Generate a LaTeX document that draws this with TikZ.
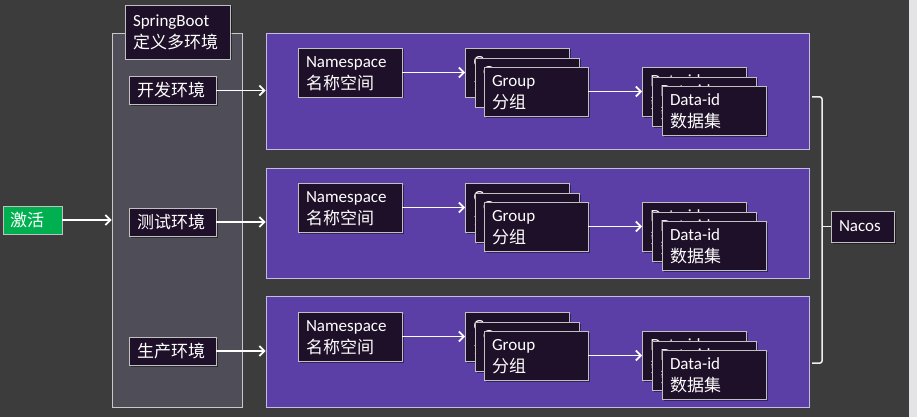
\documentclass[tikz,border=0pt]{standalone}
\usepackage{fontspec}
\setmainfont{Carlito}
\newfontfamily\cjk{Noto Sans CJK SC}
\usetikzlibrary{arrows.meta,shadows}
\definecolor{bgc}{HTML}{3C3C3C}
\definecolor{stripc}{HTML}{E4E4E8}
\definecolor{panelgray}{HTML}{4F4E58}
\definecolor{panelline}{HTML}{C8C8C8}
\definecolor{purp}{HTML}{5B3FA6}
\definecolor{purpline}{HTML}{C4BCE4}
\definecolor{boxfill}{HTML}{1E1028}
\definecolor{boxline}{HTML}{C0C0C0}
\definecolor{greenc}{HTML}{00B050}
\begin{document}
\begin{tikzpicture}[x=1pt,y=-1pt,
  txt/.style={font=\fontsize{17}{22}\selectfont, text=white},
  box/.style={txt, draw=boxline, fill=boxfill, line width=0.8pt, inner xsep=8pt, inner ysep=0pt, align=left,
    drop shadow={shadow xshift=1.5pt, shadow yshift=-1.5pt, opacity=0.45, fill=black}},
  bigbox/.style={box, text width=88pt, minimum height=49pt, execute at begin node={\rule{0pt}{14pt}}},
  envbox/.style={box, text width=71pt, minimum height=28pt},
  panel/.style={draw=purpline, fill=purp, line width=0.8pt, minimum width=543pt},
  arr/.style={draw=white, line width=1.8pt, -{Straight Barb[length=5pt,width=10pt,line width=1.8pt]}},
  brace/.style={draw=white!94!black, line width=1.5pt}
]
\useasboundingbox (0,0) rectangle (917,417);
\fill[bgc] (0,0) rectangle (917,417);
\fill[stripc] (909,0) rectangle (917,417);

% left gray panel
\node[draw=panelline, fill=panelgray, line width=0.8pt, minimum width=130pt, minimum height=374pt] (gp) at (177,220) {};
\node[box, text width=89pt, minimum height=54pt, execute at begin node={\rule{0pt}{13pt}}] (sb) at (177.5,32) {SpringBoot\\{\cjk 定义多环境}};
\node[envbox] (kf) at (172.5,90.5) {\cjk 开发环境};
\node[envbox] (cs) at (172.5,222) {\cjk 测试环境};
\node[envbox] (sc) at (172.5,351) {\cjk 生产环境};

% activate
\node[txt, draw=boxline, fill=greenc, line width=0.8pt, inner xsep=7pt, inner ysep=0pt, text width=45pt, minimum height=28pt, align=left] (jh) at (32.5,220) {\cjk 激活};
\draw[arr] (jh.east) -- (jh.east -| gp.west);

% purple panels
\node[panel, minimum height=116pt] (p1) at (537.5,91) {};
\node[panel, minimum height=110pt] (p2) at (537.5,223) {};
\node[panel, minimum height=111pt] (p3) at (537.5,351.5) {};

\draw[arr] (kf.east) -- (kf.east -| p1.west);
\draw[arr] (cs.east) -- (cs.east -| p2.west);
\draw[arr] (sc.east) -- (sc.east -| p3.west);

\foreach \k/\dy in {1/0,2/135,3/264}{
  \node[bigbox] (ns\k) at (350,72.5+\dy) {Namespace\\{\cjk 名称空间}};
  \node[bigbox] (gb\k) at (517.5,72.5+\dy) {Group\\{\cjk 分组}};
  \node[bigbox] (gm\k) at (527,82.5+\dy) {Group\\{\cjk 分组}};
  \node[bigbox] (gf\k) at (536,91.5+\dy) {Group\\{\cjk 分组}};
  \node[bigbox] (db\k) at (694.5,91.5+\dy) {Data-id\\{\cjk 数据集}};
  \node[bigbox] (dm\k) at (704.5,101.5+\dy) {Data-id\\{\cjk 数据集}};
  \node[bigbox] (df\k) at (714,110.5+\dy) {Data-id\\{\cjk 数据集}};
  \draw[arr] (ns\k.east) -- (gb\k.west);
  \draw[arr] (gf\k.east) -- (db\k.west);
}

% Nacos and bracket
\node[box, text width=47pt, minimum height=31pt] (nacos) at (862.5,226.5) {Nacos};
\coordinate (bt) at (812,97);
\coordinate (bb) at (812,363);
\coordinate (bm) at (822,226.5);
\draw[brace, rounded corners=2pt] (bt) -- (bt -| bm) -- (bb -| bm) -- (bb);
\draw[brace] (bm) -- (nacos.west);
\end{tikzpicture}
\end{document}
